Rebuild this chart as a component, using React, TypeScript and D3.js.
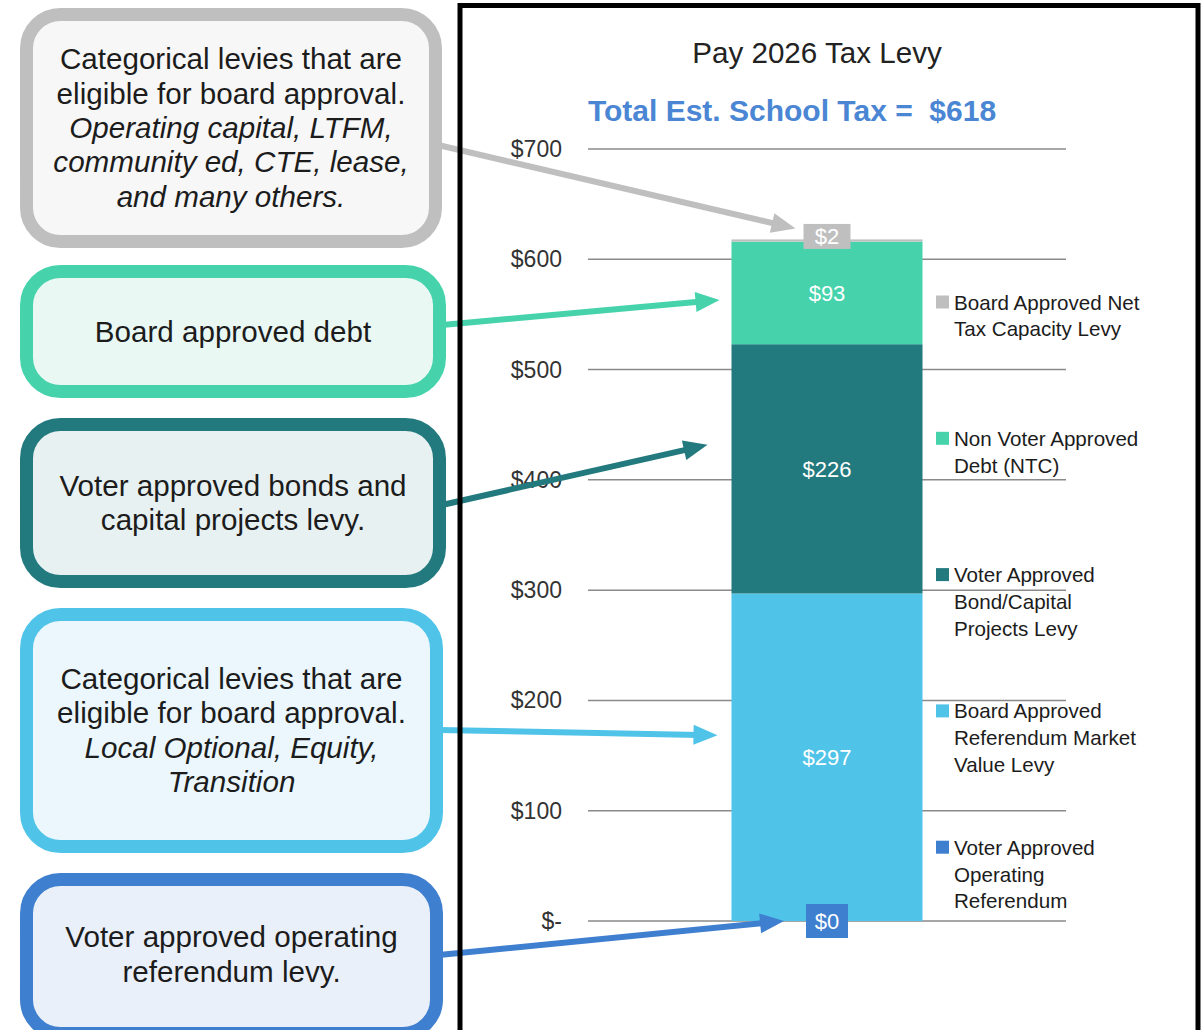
import React from 'react';
import * as d3 from 'd3';

// ------- Data -------
const segments = [
  'Voter Approved Operating Referendum',
  'Board Approved Referendum Market Value Levy',
  'Voter Approved Bond/Capital Projects Levy',
  'Non Voter Approved Debt (NTC)',
  'Board Approved Net Tax Capacity Levy',
];
const values = [0, 297, 226, 93, 2];
const colors = ['#3F7FD0', '#4FC3E8', '#237A7E', '#46D3AC', '#BFBFBF'];
const legendLines = [
  ['Voter Approved', 'Operating', 'Referendum'],
  ['Board Approved', 'Referendum Market', 'Value Levy'],
  ['Voter Approved', 'Bond/Capital', 'Projects Levy'],
  ['Non Voter Approved', 'Debt (NTC)'],
  ['Board Approved Net', 'Tax Capacity Levy'],
];
const yTicks = [0, 100, 200, 300, 400, 500, 600, 700];
const category = 'Pay 2026';
const title = 'Pay 2026 Tax Levy';
const subtitle = 'Total Est. School Tax =  $618';

// callout boxes, index matches segments
const boxLines: { t: string; i: boolean }[][] = [
  [
    { t: 'Voter approved operating', i: false },
    { t: 'referendum levy.', i: false },
  ],
  [
    { t: 'Categorical levies that are', i: false },
    { t: 'eligible for board approval.', i: false },
    { t: 'Local Optional, Equity,', i: true },
    { t: 'Transition', i: true },
  ],
  [
    { t: 'Voter approved bonds and', i: false },
    { t: 'capital projects levy.', i: false },
  ],
  [{ t: 'Board approved debt', i: false }],
  [
    { t: 'Categorical levies that are', i: false },
    { t: 'eligible for board approval.', i: false },
    { t: 'Operating capital, LTFM,', i: true },
    { t: 'community ed, CTE, lease,', i: true },
    { t: 'and many others.', i: true },
  ],
];
const boxFills = ['#EAF0F9', '#EBF7FD', '#E8F1F2', '#EAF8F4', '#F7F7F7'];
const boxTop = [873, 608, 418, 265, 8];
const boxBottom = [1040, 853, 588, 398, 248];
const boxRight = [443, 443, 446, 446, 442];
const arrowStartY = [955, 730, 505, 325, 145];

const FONT = '"Liberation Sans", Arial, sans-serif';

export default function App() {
  const width = 1204;
  const height = 1030;

  const y = d3.scaleLinear().domain([0, 700]).range([921, 149]);
  const x = d3
    .scaleBand<string>()
    .domain([category])
    .range([588, 1066])
    .paddingInner(0.429)
    .paddingOuter(0.429);

  const bx = x(category)!;
  const bw = x.bandwidth();
  const cx = bx + bw / 2;

  const ends = Array.from(d3.cumsum(values));
  const stack = values.map((v, i) => ({
    v,
    y0: ends[i] - v,
    y1: ends[i],
    color: colors[i],
    name: segments[i],
  }));
  const total = ends[ends.length - 1];

  const fmt = (v: number) => (v === 0 ? '$-' : `$${v}`);

  // small labelled boxes for slim segments
  const smallBoxes = stack.map((s, i) => {
    if (s.v > 10) return null;
    const w = i === 0 ? 42 : 47;
    const h = i === 0 ? 34 : 25;
    const cy = i === 0 ? y(s.y1) : y(s.y1) - 3;
    return { x: cx - w / 2, y: cy - h / 2, w, h, cy };
  });

  // arrow tips anchored on the segments
  const arrowTip = stack.map((s, i) => {
    const sb = smallBoxes[i];
    if (sb) return i === 0 ? [sb.x - 22, y(s.y1)] : [sb.x - 8, y(s.y1) - 11];
    const mid = y((s.y0 + s.y1) / 2);
    if (i === 3) return [bx - 12, mid + 7];
    if (i === 2) return [bx - 24, mid - 24];
    return [bx - 14, mid - 22];
  });

  const arrowHead = (x1: number, y1: number, x2: number, y2: number) => {
    const a = Math.atan2(y2 - y1, x2 - x1);
    const L = 24;
    const W = 10;
    const bxp = x2 - L * Math.cos(a);
    const byp = y2 - L * Math.sin(a);
    const px = -Math.sin(a) * W;
    const py = Math.cos(a) * W;
    return `M${x2},${y2}L${bxp + px},${byp + py}L${bxp - px},${byp - py}Z`;
  };

  const legendTop = 302;
  const legendStep = 136.3;

  return (
    <svg
      width={width}
      height={height}
      style={{ position: 'absolute', left: 0, top: 0, display: 'block', background: '#fff' }}
      fontFamily={FONT}
    >
      {/* ------- Callout boxes ------- */}
      {boxLines.map((lines, i) => {
        const sw = 13;
        const top = boxTop[i];
        const bot = boxBottom[i];
        const left = 20;
        const right = boxRight[i];
        const mid = (Math.min(bot, height + 10) + top) / 2 + (i === 0 ? -2 : 0);
        const lh = 34.3;
        const tx = (left + right) / 2;
        return (
          <g key={i}>
            <rect
              x={left + sw / 2}
              y={top + sw / 2}
              width={right - left - sw}
              height={bot - top - sw}
              rx={34}
              fill={boxFills[i]}
              stroke={colors[i]}
              strokeWidth={sw}
            />
            {lines.map((l, j) => (
              <text
                key={j}
                x={tx}
                y={mid + (j - (lines.length - 1) / 2) * lh + 10}
                textAnchor="middle"
                fontSize={29.6}
                fontStyle={l.i ? 'italic' : 'normal'}
                fill="#1c1c1c"
              >
                {l.t}
              </text>
            ))}
          </g>
        );
      })}

      {/* ------- Title ------- */}
      <text x={817} y={63} textAnchor="middle" fontSize={29.6} fill="#222">
        {title}
      </text>
      <text
        x={792}
        y={121}
        textAnchor="middle"
        fontSize={30}
        fontWeight="bold"
        fill="#4A86D4"
        style={{ whiteSpace: 'pre' }}
      >
        {subtitle}
      </text>

      {/* ------- Grid + axis ------- */}
      {yTicks.map((t) => (
        <g key={t}>
          <line x1={588} x2={1066} y1={y(t)} y2={y(t)} stroke="#8a8a8a" strokeWidth={1.5} />
          <text x={562} y={y(t) + 8} textAnchor="end" fontSize={23} fill="#333">
            {fmt(t)}
          </text>
        </g>
      ))}

      {/* ------- Bar ------- */}
      {stack.map((s, i) => (
        <rect
          key={i}
          x={bx}
          width={bw}
          y={y(s.y1)}
          height={y(s.y0) - y(s.y1)}
          fill={s.color}
        />
      ))}
      {stack.map((s, i) => {
        const sb = smallBoxes[i];
        if (sb) {
          return (
            <g key={i}>
              <rect x={sb.x} y={sb.y} width={sb.w} height={sb.h} fill={s.color} />
              <text x={cx} y={sb.cy + 8} textAnchor="middle" fontSize={22} fill="#fff">
                {`$${s.v}`}
              </text>
            </g>
          );
        }
        return (
          <text
            key={i}
            x={cx}
            y={y((s.y0 + s.y1) / 2) + 8}
            textAnchor="middle"
            fontSize={22}
            fill="#fff"
          >
            {`$${s.v}`}
          </text>
        );
      })}

      {/* ------- Legend ------- */}
      {legendLines.map((lines, k) => {
        const i = legendLines.length - 1 - k;
        const ly = legendTop + i * legendStep;
        return (
          <g key={k}>
            <rect x={936} y={ly - 6.5} width={13} height={13} fill={colors[k]} />
            {lines.map((l, j) => (
              <text key={j} x={954} y={ly + 7.5 + j * 26.8} fontSize={20.6} fill="#1c1c1c">
                {l}
              </text>
            ))}
          </g>
        );
      })}

      {/* ------- Arrows ------- */}
      {arrowTip.map(([tx, ty], i) => {
        const sx = boxRight[i] - 4;
        const sy = arrowStartY[i];
        const a = Math.atan2(ty - sy, tx - sx);
        const ex = tx - 18 * Math.cos(a);
        const ey = ty - 18 * Math.sin(a);
        return (
          <g key={i}>
            <line x1={sx} y1={sy} x2={ex} y2={ey} stroke={colors[i]} strokeWidth={6} />
            <path d={arrowHead(sx, sy, tx, ty)} fill={colors[i]} />
          </g>
        );
      })}

      {/* ------- Frame ------- */}
      <rect x={460} y={5.5} width={738} height={1040} fill="none" stroke="#000" strokeWidth={5} />
      <title>{`${category}: ${total}`}</title>
    </svg>
  );
}
